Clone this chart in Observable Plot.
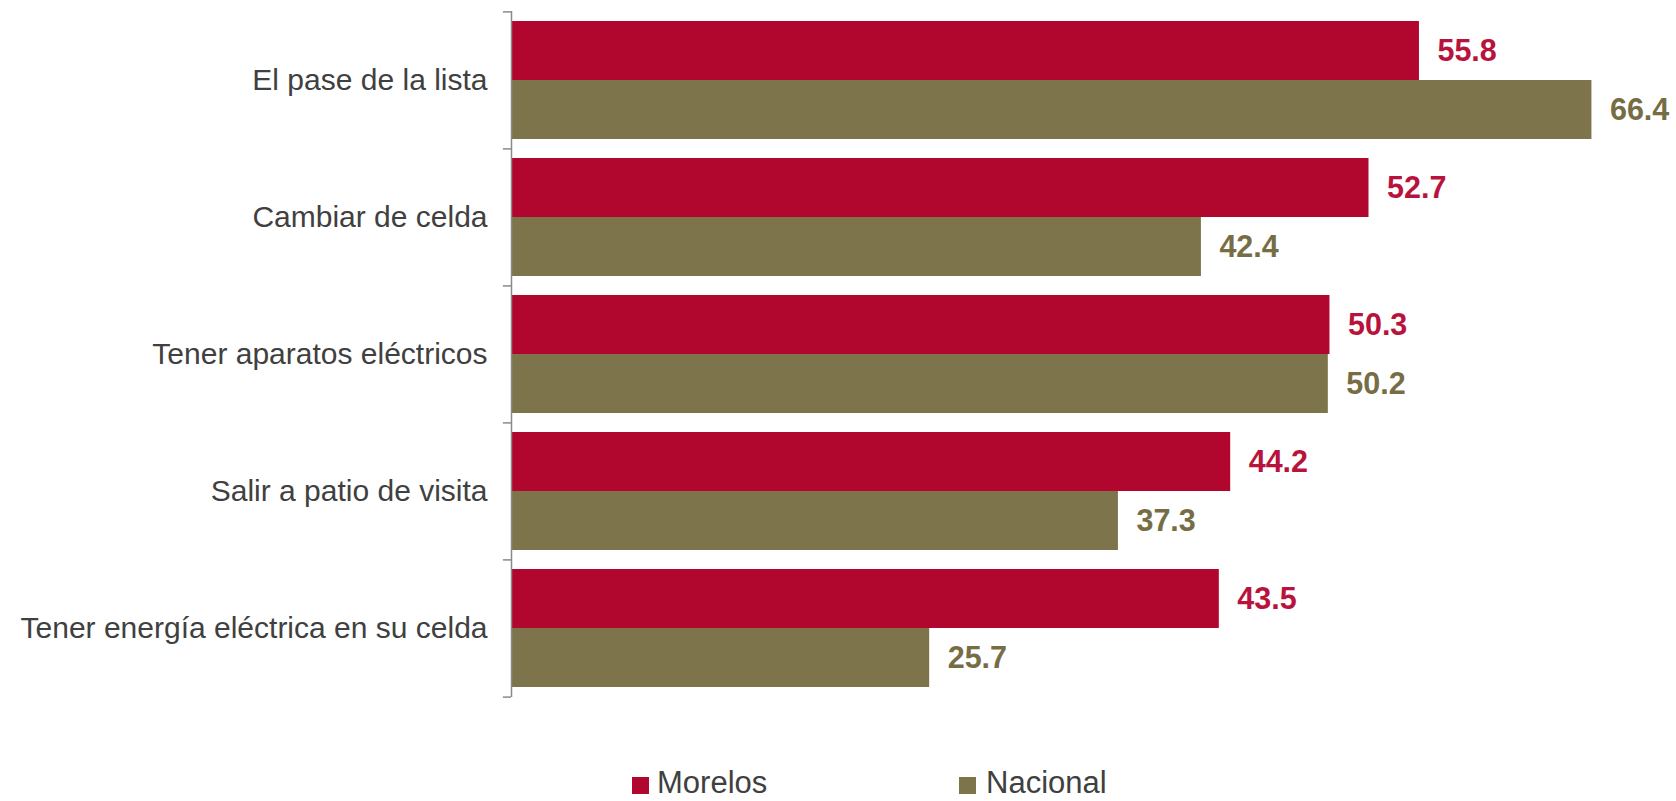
<!DOCTYPE html>
<html>
<head>
<meta charset="utf-8">
<script src="https://cdn.jsdelivr.net/npm/d3@7"></script>
<script src="https://cdn.jsdelivr.net/npm/@observablehq/plot@0.6"></script>
<style>
  html, body { margin: 0; padding: 0; background: #fff; overflow: hidden; }
  #chart svg { display: block; }
  .legend { position: relative; height: 46px; width: 1676px; font-family: "Liberation Sans", Arial, sans-serif; font-size: 31px; color: #404040; overflow: hidden; }
  .legend .item { position: absolute; top: 12px; height: 32px; line-height: 32px; white-space: nowrap; }
  .legend .sw { position: absolute; left: 0; top: 10px; width: 17px; height: 17px; }
  .legend .lbl { position: absolute; top: 0; }
</style>
</head>
<body>
<div id="chart"></div>
<div class="legend" id="legend"></div>
<script>
const categories = ["El pase de la lista", "Cambiar de celda", "Tener aparatos eléctricos", "Salir a patio de visita", "Tener energía eléctrica en su celda"];
const morelos = [55.8, 52.7, 50.3, 44.2, 43.5];
const nacional = [66.4, 42.4, 50.2, 37.3, 25.7];
const seriesNames = ["Morelos", "Nacional"];
const barColors = ["#B1062D", "#7D744C"];
const labelColors = ["#B8133C", "#766D45"];

const width = 1676, height = 755;
const marginTop = 11, marginBottom = 58, marginLeft = 511, marginRight = 26;
const padInner = 0.14, padOuter = 0.07;
const step = (height - marginTop - marginBottom) / (categories.length - padInner + 2 * padOuter);
const bw = step * (1 - padInner);

const rowsM = categories.map((c, i) => ({cat: c, value: morelos[i]}));
const rowsN = categories.map((c, i) => ({cat: c, value: nacional[i]}));
const axisGray = "#8a8a8a";

const chart = Plot.plot({
  width, height, marginTop, marginBottom, marginLeft, marginRight,
  style: {fontFamily: "Liberation Sans, Arial, sans-serif", fontSize: "30px", color: "#404040", background: "#fff"},
  x: {axis: null, domain: [0, 70]},
  y: {domain: categories, paddingInner: padInner, paddingOuter: padOuter, tickSize: 0, tickPadding: 24, label: null},
  marks: [
    Plot.barX(rowsM, {y: "cat", x: "value", fill: barColors[0], insetBottom: bw / 2, style: "filter: drop-shadow(1px 3px 2px rgba(0,0,0,0.25))"}),
    Plot.barX(rowsN, {y: "cat", x: "value", fill: barColors[1], insetTop: bw / 2}),
    Plot.text(rowsM, {y: "cat", x: "value", text: d => d.value.toFixed(1), dx: 18, dy: -bw / 4, textAnchor: "start", fill: labelColors[0], fontWeight: "bold", fontSize: 30.5}),
    Plot.text(rowsN, {y: "cat", x: "value", text: d => d.value.toFixed(1), dx: 18, dy: bw / 4, textAnchor: "start", fill: labelColors[1], fontWeight: "bold", fontSize: 30.5}),
    Plot.ruleX([0], {stroke: axisGray, strokeWidth: 1.5}),
    Plot.ruleY(categories, {y: d => d, x1: -0.5, x2: 0, dy: -step / 2, stroke: axisGray, strokeWidth: 1.5}),
    Plot.ruleY(categories.slice(-1), {y: d => d, x1: -0.5, x2: 0, dy: step / 2, stroke: axisGray, strokeWidth: 1.5})
  ]
});
document.getElementById("chart").appendChild(chart);

const legend = document.getElementById("legend");
const legendX = [632, 959];
seriesNames.forEach((name, i) => {
  const item = document.createElement("div");
  item.className = "item";
  item.style.left = legendX[i] + "px";
  const sw = document.createElement("div");
  sw.className = "sw";
  sw.style.background = barColors[i];
  const t = document.createElement("span");
  t.className = "lbl";
  t.style.left = (i === 0 ? 25 : 27) + "px";
  t.textContent = name;
  item.appendChild(sw);
  item.appendChild(t);
  legend.appendChild(item);
});
</script>
</body>
</html>
